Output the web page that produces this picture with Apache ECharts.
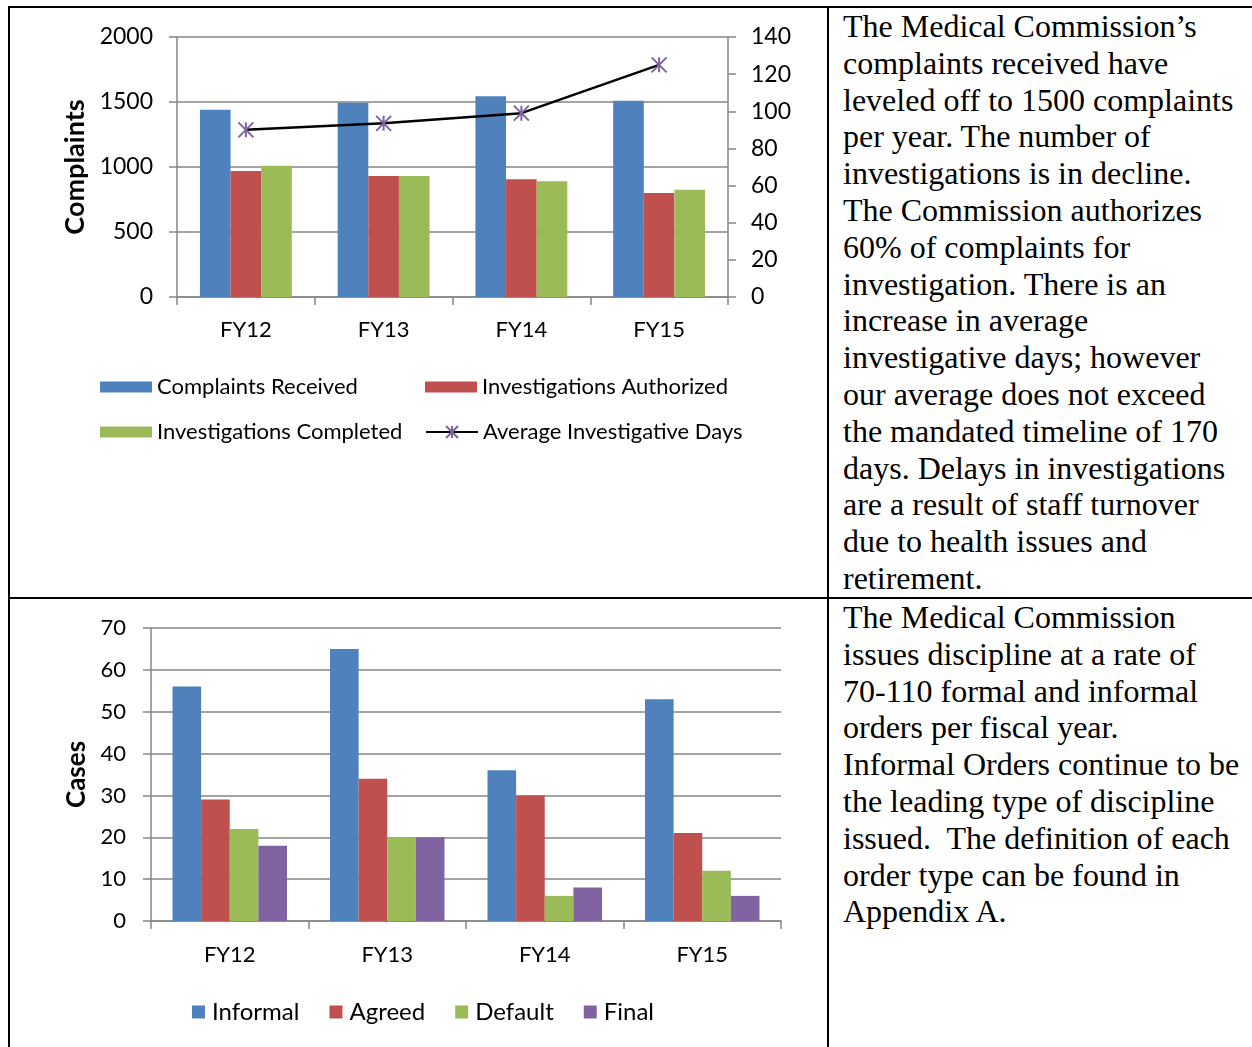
<!DOCTYPE html>
<html>
<head>
<meta charset="utf-8">
<script src="https://cdn.jsdelivr.net/npm/echarts@6/dist/echarts.min.js"></script>
<style>
  body { margin: 0; background: #fff; width: 1252px; height: 1047px; overflow: hidden; position: relative; }
  .rule { position: absolute; background: #000; }
  .cell-text {
    position: absolute;
    font-family: "Liberation Serif", "Times New Roman", serif;
    font-size: 32px;
    line-height: 36.8px;
    color: #000;
    white-space: pre;
  }
  .chart { position: absolute; }
</style>
</head>
<body>
<div class="rule" style="left:8px;top:6px;width:1244px;height:2px;"></div>
<div class="rule" style="left:8px;top:597px;width:1244px;height:2px;"></div>
<div class="rule" style="left:8px;top:6px;width:2px;height:1041px;"></div>
<div class="rule" style="left:827px;top:6px;width:2px;height:1041px;"></div>

<div id="chart1" class="chart" style="left:10px;top:9px;width:817px;height:588px;"></div>
<div id="chart2" class="chart" style="left:10px;top:600px;width:817px;height:447px;"></div>

<div class="cell-text" style="left:843px;top:8px;">The Medical Commission’s
complaints received have
leveled off to 1500 complaints
per year. The number of
investigations is in decline.
The Commission authorizes
60% of complaints for
investigation. There is an
increase in average
investigative days; however
our average does not exceed
the mandated timeline of 170
days. Delays in investigations
are a result of staff turnover
due to health issues and
retirement.</div>

<div class="cell-text" style="left:843px;top:599px;">The Medical Commission
issues discipline at a rate of
70-110 formal and informal
orders per fiscal year.
Informal Orders continue to be
the leading type of discipline
issued.  The definition of each
order type can be found in
Appendix A.</div>

<script>
// fiscal years
var years = ['FY12', 'FY13', 'FY14', 'FY15']

// top chart
var complaintsReceived = [1440, 1495, 1545, 1510]
var investigationsAuthorized = [970, 930, 905, 800]
var investigationsCompleted = [1010, 930, 890, 825]
var avgInvestigativeDays = [90, 93.5, 99, 125]

// bottom chart
var informal = [56, 65, 36, 53]
var agreed = [29, 34, 30, 21]
var defaultOrders = [22, 20, 6, 12]
var finalOrders = [18, 20, 8, 6]

var FONT = 'Lato'
var GRID_GRAY = '#868686'
var BLUE = '#4F81BD'
var RED = '#C0504D'
var GREEN = '#9BBB59'
var PURPLE = '#8064A2'
var STAR = 'path://M0,0L10,10M10,0L0,10M5,0L5,10'

var axisLine = { show: true, lineStyle: { color: GRID_GRAY, width: 1.5 } }
var axisTick = { show: true, length: 8, lineStyle: { color: GRID_GRAY, width: 1.5 } }
var plainNumber = function (v) { return String(v) }

function legendAt (name, left, top, w, h, icon) {
  return {
    data: [{ name: name, icon: icon }],
    left: left,
    top: top,
    padding: 0,
    itemWidth: w,
    itemHeight: h,
    selectedMode: false,
    textStyle: { fontFamily: FONT, fontSize: 22, color: '#000' }
  }
}

var options1 = {
  animation: false,
  color: [BLUE, RED, GREEN, '#000'],
  legend: [
    legendAt('Complaints Received', 90, 367, 52, 11, 'rect'),
    legendAt('Investigations Authorized', 415, 367, 52, 11, 'rect'),
    legendAt('Investigations Completed', 90, 412, 52, 11, 'rect'),
    legendAt('Average Investigative Days', 415, 412, 52, 15)
  ],
  grid: { left: 167, top: 28, width: 551, height: 260 },
  xAxis: {
    type: 'category',
    data: years,
    axisLine: axisLine,
    axisTick: axisTick,
    axisLabel: { fontFamily: FONT, fontSize: 22, color: '#000', margin: 22 }
  },
  yAxis: [
    {
      type: 'value',
      min: 0,
      max: 2000,
      interval: 500,
      name: 'Complaints',
      nameLocation: 'middle',
      nameRotate: 90,
      nameGap: 86,
      nameTextStyle: { fontFamily: FONT, fontSize: 27, fontWeight: 'bold', color: '#000' },
      axisLine: axisLine,
      axisTick: axisTick,
      splitLine: { lineStyle: { color: GRID_GRAY, width: 1.5 } },
      axisLabel: { fontFamily: FONT, fontSize: 23, color: '#000', margin: 24, formatter: plainNumber }
    },
    {
      type: 'value',
      position: 'right',
      min: 0,
      max: 140,
      interval: 20,
      axisLine: axisLine,
      axisTick: axisTick,
      splitLine: { show: false },
      axisLabel: { fontFamily: FONT, fontSize: 23, color: '#000', margin: 23 }
    }
  ],
  series: [
    { name: 'Complaints Received', type: 'bar', barGap: 0, barCategoryGap: '33.3%', itemStyle: { color: BLUE }, data: complaintsReceived },
    { name: 'Investigations Authorized', type: 'bar', barGap: 0, barCategoryGap: '33.3%', itemStyle: { color: RED }, data: investigationsAuthorized },
    { name: 'Investigations Completed', type: 'bar', barGap: 0, barCategoryGap: '33.3%', itemStyle: { color: GREEN }, data: investigationsCompleted },
    {
      name: 'Average Investigative Days',
      type: 'line',
      yAxisIndex: 1,
      symbol: STAR,
      symbolSize: 15,
      lineStyle: { color: '#000', width: 2.5 },
      itemStyle: { color: 'none', borderColor: PURPLE, borderWidth: 2 },
      data: avgInvestigativeDays
    }
  ]
}

var options2 = {
  animation: false,
  color: [BLUE, RED, GREEN, PURPLE],
  legend: {
    data: ['Informal', 'Agreed', 'Default', 'Final'],
    icon: 'rect',
    left: 182,
    top: 400,
    padding: 0,
    itemWidth: 13,
    itemHeight: 13,
    itemGap: 30,
    selectedMode: false,
    textStyle: { fontFamily: FONT, fontSize: 24, color: '#000', padding: [0, 0, 0, 2] }
  },
  grid: { left: 141, top: 28, width: 630, height: 293 },
  xAxis: {
    type: 'category',
    data: years,
    axisLine: axisLine,
    axisTick: axisTick,
    axisLabel: { fontFamily: FONT, fontSize: 22, color: '#000', margin: 23 }
  },
  yAxis: {
    type: 'value',
    min: 0,
    max: 70,
    interval: 10,
    name: 'Cases',
    nameLocation: 'middle',
    nameRotate: 90,
    nameGap: 60,
    nameTextStyle: { fontFamily: FONT, fontSize: 26, fontWeight: 'bold', color: '#000' },
    axisLine: axisLine,
    axisTick: axisTick,
    splitLine: { lineStyle: { color: GRID_GRAY, width: 1.5 } },
    axisLabel: { fontFamily: FONT, fontSize: 22, color: '#000', margin: 25 }
  },
  series: [
    { name: 'Informal', type: 'bar', barGap: 0, barCategoryGap: '27.3%', data: informal },
    { name: 'Agreed', type: 'bar', barGap: 0, barCategoryGap: '27.3%', data: agreed },
    { name: 'Default', type: 'bar', barGap: 0, barCategoryGap: '27.3%', data: defaultOrders },
    { name: 'Final', type: 'bar', barGap: 0, barCategoryGap: '27.3%', data: finalOrders }
  ]
}

var chart1 = echarts.init(document.getElementById('chart1'))
chart1.setOption(options1)
var chart2 = echarts.init(document.getElementById('chart2'))
chart2.setOption(options2)
</script>
</body>
</html>
